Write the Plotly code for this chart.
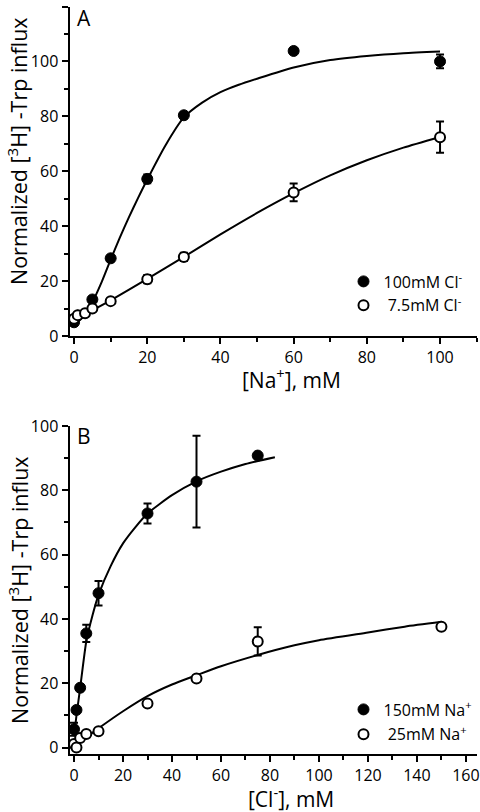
import plotly.graph_objects as go

# ---------------- Panel A: Trp influx vs [Na+] ----------------
a_hi_x = [0, 1, 5, 10, 20, 30, 60, 100]
a_hi_y = [5.0, 7.4, 13.3, 28.3, 57.2, 80.4, 103.8, 100.0]
a_hi_err = [0.8, 0.8, 1.0, 1.0, 1.6, 1.0, 0.6, 2.5]

a_lo_x = [0, 1, 3, 5, 10, 20, 30, 60, 100]
a_lo_y = [6.3, 7.6, 8.3, 10.0, 12.7, 20.7, 28.8, 52.3, 72.4]
a_lo_err = [0.8, 0.8, 0.8, 0.8, 1.0, 1.5, 1.5, 3.2, 5.7]

a_hi_fit_x = [0, 1, 3, 5, 7.5, 10, 12.5, 15, 17.5, 20, 25, 30, 35, 40, 45, 50, 60, 70, 80, 90, 100]
a_hi_fit_y = [5.0, 5.6, 8.4, 12.3, 19.5, 27.8, 35.8, 43.3, 50.3, 57.0, 69.5, 79.6, 85.0, 88.8,
              91.5, 93.7, 97.8, 100.5, 102.0, 103.0, 103.6]

a_lo_fit_x = [0, 5, 10, 20, 30, 40, 50, 60, 70, 80, 90, 100]
a_lo_fit_y = [6.0, 9.4, 13.0, 20.8, 28.8, 37.0, 44.8, 52.0, 58.5, 64.0, 68.6, 72.5]

# ---------------- Panel B: Trp influx vs [Cl-] ----------------
b_hi_x = [0, 1, 2.5, 5, 10, 30, 50, 75]
b_hi_y = [5.7, 11.7, 18.6, 35.5, 48.0, 72.8, 82.7, 90.8]
b_hi_err = [2.0, 0.5, 0.5, 2.7, 3.8, 3.1, 14.3, 0.5]

b_lo_x = [0, 1, 2.5, 5, 10, 30, 50, 75, 150]
b_lo_y = [1.1, 0.0, 3.0, 4.2, 5.1, 13.7, 21.5, 33.0, 37.6]
b_lo_err = [0.5, 0.5, 0.5, 0.5, 0.5, 0.5, 0.5, 4.4, 0.5]

b_hi_fit_x = [0, 1, 2.5, 5, 7.5, 10, 15, 20, 25, 30, 40, 50, 60, 70, 82]
b_hi_fit_y = [3.5, 10.0, 18.5, 33.0, 41.0, 47.5, 56.5, 63.5, 68.5, 72.8, 78.5, 82.8, 85.8, 88.2, 90.3]

b_lo_fit_x = [0, 5, 10, 20, 30, 40, 50, 60, 75, 90, 100, 120, 135, 150]
b_lo_fit_y = [0.5, 3.2, 6.0, 11.3, 16.0, 19.6, 22.5, 25.3, 28.8, 31.8, 33.4, 35.8, 37.6, 39.1]

labels_a = ["100mM Cl<sup>-</sup>", "\u00a07.5mM Cl<sup>-</sup>"]
labels_b = ["150mM Na<sup>+</sup>", "\u00a025mM Na<sup>+</sup>"]

FONT = "Open Sans"
W, H = 480, 812

def px(v):
    return v / W

def py(v):
    return 1 - v / H

fig = go.Figure()

line_style = dict(color="black", width=2, shape="spline", smoothing=0.6)
filled = dict(symbol="circle", size=11, color="black", line=dict(color="black", width=1))
opened = dict(symbol="circle", size=10, color="white", line=dict(color="black", width=2))
def err(arr):
    return dict(type="data", array=arr, visible=True, color="black", thickness=2, width=4)

# Panel A
fig.add_trace(go.Scatter(x=a_hi_fit_x, y=a_hi_fit_y, mode="lines", line=line_style,
                         showlegend=False, xaxis="x", yaxis="y", hoverinfo="skip"))
fig.add_trace(go.Scatter(x=a_lo_fit_x, y=a_lo_fit_y, mode="lines", line=line_style,
                         showlegend=False, xaxis="x", yaxis="y", hoverinfo="skip"))
fig.add_trace(go.Scatter(x=a_hi_x, y=a_hi_y, mode="markers", marker=filled, error_y=err(a_hi_err),
                         name=labels_a[0], xaxis="x", yaxis="y", legend="legend",
                         legendgroup="a1"))
fig.add_trace(go.Scatter(x=a_lo_x, y=a_lo_y, mode="markers", marker=opened, error_y=err(a_lo_err),
                         name=labels_a[1], xaxis="x", yaxis="y", legend="legend",
                         legendgroup="a2"))

# Panel B
fig.add_trace(go.Scatter(x=b_hi_fit_x, y=b_hi_fit_y, mode="lines", line=line_style,
                         showlegend=False, xaxis="x2", yaxis="y2", hoverinfo="skip"))
fig.add_trace(go.Scatter(x=b_lo_fit_x, y=b_lo_fit_y, mode="lines", line=line_style,
                         showlegend=False, xaxis="x2", yaxis="y2", hoverinfo="skip"))
fig.add_trace(go.Scatter(x=b_hi_x, y=b_hi_y, mode="markers", marker=filled, error_y=err(b_hi_err),
                         name=labels_b[0], xaxis="x2", yaxis="y2", legend="legend2",
                         legendgroup="b1"))
fig.add_trace(go.Scatter(x=b_lo_x, y=b_lo_y, mode="markers", marker=opened, error_y=err(b_lo_err),
                         name=labels_b[1], xaxis="x2", yaxis="y2", legend="legend2",
                         legendgroup="b2"))

axis_common = dict(showline=True, linecolor="black", linewidth=2, showgrid=False, zeroline=False,
                   ticks="outside", ticklen=6, tickwidth=2, tickcolor="black",
                   tickfont=dict(family=FONT, size=16, color="black"),
                   minor=dict(ticks="outside", ticklen=4, tickwidth=2, tickcolor="black", dtick=10),
                   mirror=False, fixedrange=True, automargin=False)

fig.update_layout(
    width=W, height=H,
    margin=dict(l=0, r=0, t=0, b=0, autoexpand=False),
    paper_bgcolor="white", plot_bgcolor="white",
    font=dict(family=FONT, color="black"),
    xaxis=dict(domain=[px(69.5), px(477)], range=[-1.25, 110.1], dtick=20, anchor="y", **axis_common),
    yaxis=dict(domain=[py(336), py(6.5)], range=[0, 120], dtick=20, anchor="x", **axis_common),
    xaxis2=dict(domain=[px(69.5), px(476.7)], range=[-1.85, 164.4], dtick=20, anchor="y2", **axis_common),
    yaxis2=dict(domain=[py(754), py(426)], range=[-2, 100], dtick=20, anchor="x2", **axis_common),
    legend=dict(x=px(343.5), y=py(264.5), xanchor="left", yanchor="top",
                font=dict(family=FONT, size=16, color="black"), bgcolor="rgba(0,0,0,0)",
                traceorder="grouped", tracegroupgap=0),
    legend2=dict(x=px(343.5), y=py(692.5), xanchor="left", yanchor="top",
                 font=dict(family=FONT, size=16, color="black"), bgcolor="rgba(0,0,0,0)",
                 traceorder="grouped", tracegroupgap=1),
    showlegend=True,
)

ytitle = "Normalized [<sup>3</sup>H] -Trp influx"
ann_font = dict(family=FONT, size=21, color="black")
ytitle_font = dict(family=FONT, size=21.5, color="black")
fig.add_annotation(text="A", x=px(84), y=py(17.5), xref="paper", yref="paper",
                   showarrow=False, font=ann_font, xanchor="center", yanchor="middle")
fig.add_annotation(text="B", x=px(83.5), y=py(435.5), xref="paper", yref="paper",
                   showarrow=False, font=ann_font, xanchor="center", yanchor="middle")
fig.add_annotation(text="[Na<sup>+</sup>], mM", x=px(291), y=py(378.5), xref="paper", yref="paper",
                   showarrow=False, font=ann_font, xanchor="center", yanchor="middle")
fig.add_annotation(text="[Cl<sup>-</sup>], mM", x=px(291), y=py(797), xref="paper", yref="paper",
                   showarrow=False, font=ann_font, xanchor="center", yanchor="middle")
fig.add_annotation(text=ytitle, x=px(18), y=py(151), xref="paper", yref="paper", textangle=-90,
                   showarrow=False, font=ytitle_font, xanchor="center", yanchor="middle")
fig.add_annotation(text=ytitle, x=px(18), y=py(590), xref="paper", yref="paper", textangle=-90,
                   showarrow=False, font=ytitle_font, xanchor="center", yanchor="middle")

fig.write_html("out.html", config={"displayModeBar": False},
               post_script="document.body.style.margin='0';document.body.style.overflow='hidden';")
